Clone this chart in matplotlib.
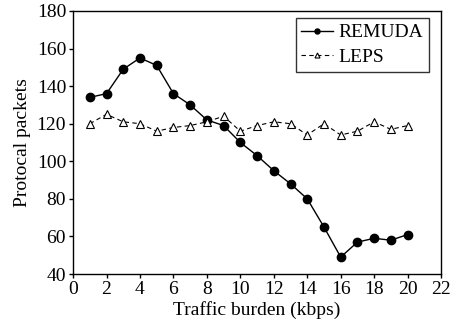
import numpy as np
import matplotlib.pyplot as plt

plt.rcParams['font.family'] = 'Liberation Serif'

traffic = list(range(1, 21))
remuda = [134, 136, 149, 155, 151, 136, 130, 122, 119, 110,
          103, 95, 88, 80, 65, 49, 57, 59, 58, 61]
leps = [120, 125, 121, 120, 116, 118, 119, 121, 124, 116,
        119, 121, 120, 114, 120, 114, 116, 121, 117, 119]

fig = plt.figure(figsize=(4.51, 3.22), dpi=100)
ax = fig.add_axes([0.162, 0.149, 0.816, 0.817])

ax.plot(traffic, remuda, '-o', color='black', linewidth=1, markersize=6,
        label='REMUDA')
ax.plot(traffic, leps, '--^', color='black', linewidth=0.8, markersize=6,
        markerfacecolor='white', markeredgewidth=0.8, dashes=(4, 3),
        label='LEPS')

ax.set_xlim(0, 22)
ax.set_ylim(40, 180)
ax.set_xticks(range(0, 23, 2))
ax.set_yticks(range(40, 181, 20))
ax.tick_params(direction='out', labelsize=14, length=3, width=1, pad=2)
ax.set_xlabel('Traffic burden (kbps)', fontsize=14, labelpad=2)
ax.set_ylabel('Protocal packets', fontsize=14, labelpad=4)
for s in ax.spines.values():
    s.set_linewidth(1)

leg = ax.legend(loc='upper right', bbox_to_anchor=(0.967, 0.973),
                fontsize=14, frameon=True, fancybox=False,
                edgecolor='black', handlelength=1.6, handletextpad=0.3,
                borderpad=0.3, labelspacing=0.35, markerscale=0.6,
                borderaxespad=0)
leg.get_frame().set_linewidth(1)

plt.savefig('out.png', dpi=100)
